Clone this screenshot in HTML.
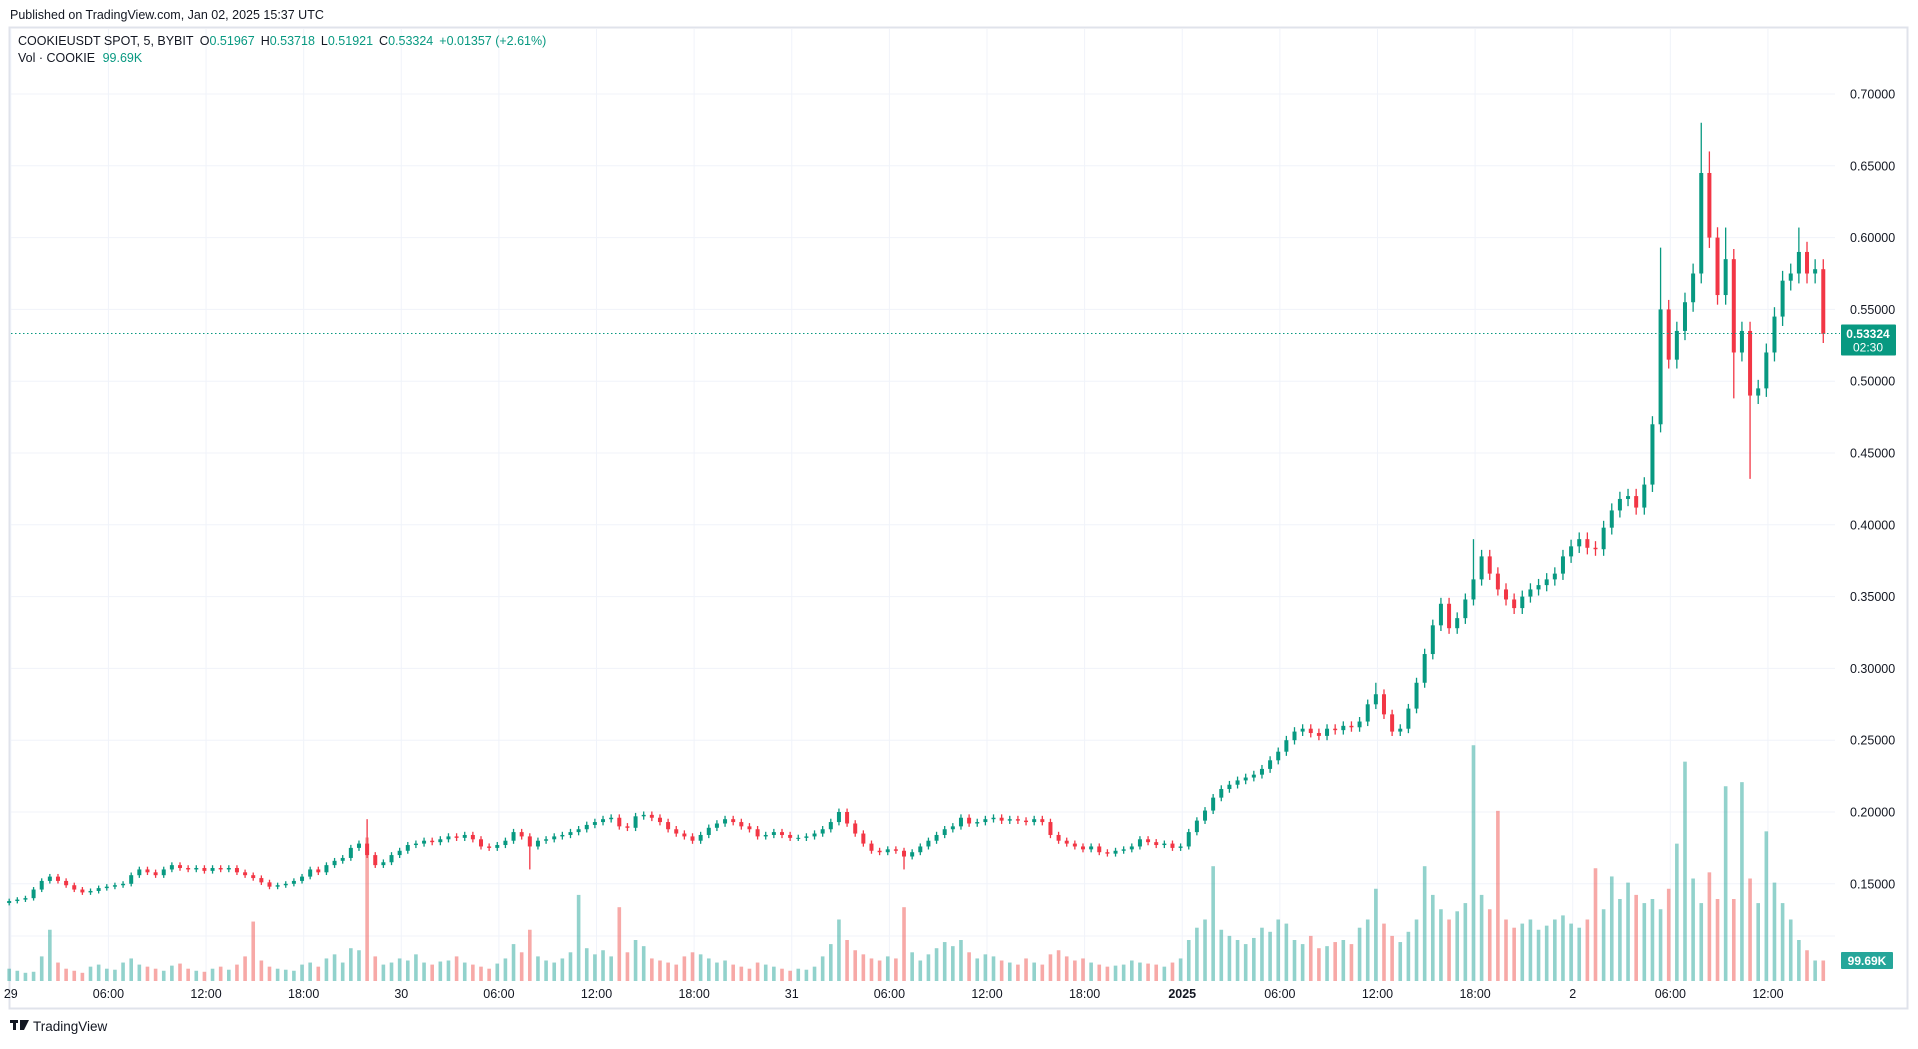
<!DOCTYPE html>
<html><head><meta charset="utf-8"><style>
body{margin:0;background:#fff;width:1918px;height:1044px;overflow:hidden;font-family:"Liberation Sans",sans-serif;}
svg text{font-family:"Liberation Sans",sans-serif;}
</style></head><body>
<svg id="c" width="1918" height="1044" xmlns="http://www.w3.org/2000/svg">
<text x="10" y="19" font-size="12.5" fill="#131722">Published on TradingView.com, Jan 02, 2025 15:37 UTC</text>
<rect x="9.5" y="27.5" width="1898" height="981" fill="#fff" stroke="#e0e3eb" stroke-width="2"/>
<g id="grid"></g>
<g id="vol"></g>
<g id="candles"></g>
<g id="axes"></g>
<g>
<text x="18" y="45" font-size="12.5" fill="#131722">COOKIEUSDT SPOT, 5, BYBIT <tspan dx="3">O</tspan><tspan fill="#089981">0.51967</tspan><tspan dx="6">H</tspan><tspan fill="#089981">0.53718</tspan><tspan dx="6">L</tspan><tspan fill="#089981">0.51921</tspan><tspan dx="6">C</tspan><tspan fill="#089981">0.53324</tspan><tspan dx="6" fill="#089981">+0.01357 (+2.61%)</tspan></text>
<text x="18" y="62" font-size="12.5" fill="#131722">Vol · COOKIE <tspan dx="4" fill="#089981">99.69K</tspan></text>
</g>
<g>
<rect x="10" y="1020" width="8" height="3" fill="#131722"/><rect x="13" y="1020" width="3" height="10" fill="#131722"/>
<polygon points="20,1020 29,1020 24,1030 20,1030" fill="#131722"/>
<text x="33" y="1031" font-size="13.5" fill="#131722">TradingView</text>
</g>
</svg>
<script>
const closes=[.138,.139,.140,.146,.152,.155,.152,.149,.146,.144,.145,.147,.148,.149,.150,.156,.160,.158,.156,.160,.163,.161,.160,.161,.159,.161,.160,.161,.158,.156,.154,.151,.148,.149,.150,.152,.155,.160,.158,.163,.166,.168,.175,.178,.170,.163,.165,.170,.173,.177,.178,.180,.179,.181,.183,.182,.184,.181,.176,.175,.177,.180,.186,.183,.176,.180,.181,.183,.184,.186,.188,.191,.193,.195,.196,.190,.189,.197,.198,.196,.193,.188,.185,.183,.180,.184,.189,.192,.195,.193,.190,.188,.183,.184,.186,.184,.182,.182,.183,.185,.188,.193,.200,.192,.185,.178,.173,.172,.174,.173,.169,.172,.176,.180,.184,.188,.190,.196,.192,.193,.195,.196,.194,.195,.194,.193,.195,.193,.184,.180,.178,.176,.174,.176,.172,.171,.173,.174,.176,.181,.179,.177,.178,.175,.176,.186,.194,.201,.210,.216,.219,.222,.224,.226,.230,.236,.242,.250,.256,.258,.255,.253,.258,.257,.260,.259,.263,.275,.282,.268,.256,.258,.272,.290,.310,.330,.345,.328,.335,.348,.362,.378,.366,.355,.348,.342,.350,.355,.358,.362,.366,.378,.385,.390,.384,.383,.398,.410,.418,.420,.412,.428,.470,.550,.515,.535,.555,.575,.645,.600,.560,.585,.520,.535,.490,.495,.520,.545,.570,.575,.590,.575,.578,.533];
const volumes=[60,50,40,45,120,250,90,60,50,40,70,80,60,55,90,110,80,70,60,50,75,85,60,50,45,60,70,55,80,120,290,100,70,60,55,50,80,90,70,110,130,90,160,150,
700,120,80,90,110,100,130,90,80,95,100,120,90,80,70,60,85,110,180,140,250,120,100,90,110,140,420,160,130,150,120,360,140,200,170,110,100,90,80,120,140,130,110,90,100,80,70,60,90,80,70,60,50,60,55,70,
120,180,300,200,150,130,110,100,120,110,360,140,100,130,160,190,170,200,140,110,130,120,100,90,80,110,90,80,130,150,120,100,110,90,80,70,75,80,100,90,85,80,70,90,110,
200,260,300,560,250,220,200,180,210,260,240,300,280,200,180,220,160,170,190,200,180,260,300,450,280,220,190,240,300,560,420,350,300,340,380,1150,420,350,830,300,260,280,300,250,270,300,320,280,260,300,550,350,510,400,480,420,380,400,350,450,670,1070,500,380,530,400,950,400,970,500,380,730,480,380,300,200,150,100,100];
const spikeIdx=[44,64,110,168,180,203,208,211,212,214,220,209];
const spikeVal=[.195,.160,.160,.290,.390,.593,.680,.607,.488,.432,.607,.660];
const priceTicks=[0.70,0.65,0.60,0.55,0.50,0.45,0.40,0.35,0.30,0.25,0.20,0.15];
const timeTicks=[0,6,12,18,24,30,36,42,48,54,60,66,72,78,84,90,96,102,108];
const timeLabels=["29","06:00","12:00","18:00","30","06:00","12:00","18:00","31","06:00","12:00","18:00","2025","06:00","12:00","18:00","2","06:00","12:00"];
const lastPrice=0.53324, lastVol="99.69K";

const NS="http://www.w3.org/2000/svg";
const y=p=>94+(0.70-p)/0.05*71.8;
const x=h=>10.8+16.27*h;
const vy=v=>981-v*0.205;
function mk(tag,attrs,parent){const e=document.createElementNS(NS,tag);for(const k in attrs)e.setAttribute(k,attrs[k]);parent.appendChild(e);return e;}
const grid=document.getElementById('grid'),axes=document.getElementById('axes'),cg=document.getElementById('candles'),vg=document.getElementById('vol');
priceTicks.forEach(p=>{
  const l=mk('line',{x1:11,x2:1835,y1:y(p),y2:y(p),stroke:'#f0f3fa','stroke-width':1},grid);
  
  
  const t=mk('text',{x:1850,y:y(p)+4.5,'font-size':12.5,fill:'#131722'},axes);
  t.textContent=p.toFixed(5);
  
  
});
mk('line',{x1:11,x2:1835,y1:936,y2:936,stroke:'#f0f3fa'},grid);
timeTicks.forEach((h,i)=>{
  const l=mk('line',{x1:x(h),x2:x(h),y1:29,y2:982,stroke:'#f0f3fa'},grid);
  
  
  const lab=timeLabels[i];
  const t=mk('text',{x:x(h),y:998,'font-size':12.5,fill:'#131722','text-anchor':'middle','font-weight':lab==='2025'?'bold':'normal'},axes);
  t.textContent=lab;
  
  
});
const spikes={};spikeIdx.forEach((k,i)=>spikes[k]=spikeVal[i]);
closes.forEach((c,i)=>{
  const o=i?closes[i-1]:c*0.99;
  const up=c>=o,col=up?'#089981':'#f23645';
  const cx=x(0.5*i-0.1);
  let hi=Math.max(o,c)*1.012,lo=Math.min(o,c)*0.988;
  const s=spikes[i];
  if(s!==undefined){if(s>hi)hi=s;else if(s<lo)lo=s;}
  const w=mk('line',{x1:cx,x2:cx,y1:y(hi),y2:y(lo),stroke:col,'stroke-width':1.3},cg);
  
  
  const top=y(Math.max(o,c)),bh=Math.max(1,y(Math.min(o,c))-top);
  const b=mk('rect',{x:cx-2,y:top,width:4,height:bh,fill:col},cg);
  
  
  const v=volumes[i]||80;
  const vb=mk('rect',{x:cx-1.8,y:vy(v),width:3.6,height:981-vy(v),fill:up?'#26a69a':'#ef5350','fill-opacity':0.5},vg);
  
  
});
const ly=y(lastPrice);
const dl=mk('line',{x1:11,x2:1840,y1:ly,y2:ly,stroke:'#089981','stroke-dasharray':'1.5 2.5'},axes);


const pb=mk('rect',{x:1841,y:ly-9,width:55,height:31,fill:'#089981',rx:1},axes);


const pt=mk('text',{x:1868,y:ly+4.5,'font-size':12,'font-weight':'bold',fill:'#fff','text-anchor':'middle'},axes);
pt.textContent=lastPrice.toFixed(5);


const ct=mk('text',{x:1868,y:ly+18,'font-size':12,fill:'#fff','text-anchor':'middle'},axes);
ct.textContent='02:30';


const vb2=mk('rect',{x:1841,y:952,width:52,height:17,fill:'#26a69a',rx:1},axes);


const vt=mk('text',{x:1867,y:965,'font-size':12,'font-weight':'bold',fill:'#fff','text-anchor':'middle'},axes);
vt.textContent=lastVol;


</script>
</body></html>
